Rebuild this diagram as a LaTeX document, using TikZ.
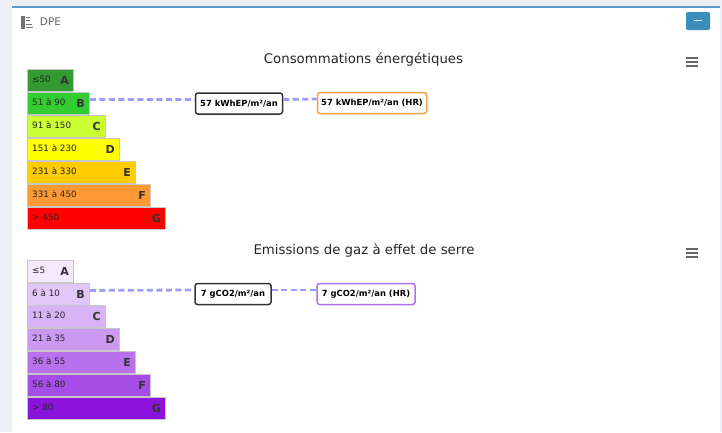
\documentclass[tikz,border=0pt]{standalone}
\usepackage{fontspec}
\setmainfont{DejaVu Sans}
\definecolor{pagebg}{HTML}{ECF0F5}
\definecolor{topline}{HTML}{5B9BCB}
\definecolor{btnblue}{HTML}{3C8DBC}
\definecolor{dashblue}{HTML}{9C9CFA}
\definecolor{ea}{HTML}{339933}\definecolor{eb}{HTML}{33CC33}\definecolor{ec}{HTML}{CCFF33}
\definecolor{ed}{HTML}{FFFF00}\definecolor{ee}{HTML}{FFCC00}\definecolor{ef}{HTML}{FF9933}\definecolor{eg}{HTML}{FF0000}
\definecolor{ga}{HTML}{F5EAFD}\definecolor{gb}{HTML}{E2C6F8}\definecolor{gc}{HTML}{D9B3F7}
\definecolor{gd}{HTML}{CC99F2}\definecolor{ge}{HTML}{B870EC}\definecolor{gf}{HTML}{A64DE8}\definecolor{gg}{HTML}{8A14DC}
\definecolor{calor}{HTML}{F5A040}\definecolor{calvi}{HTML}{B070F0}
\tikzset{
  x=1pt,y=-1pt,
  bar/.style={draw=black!22,line width=.8pt,anchor=north west,inner sep=0pt,minimum height=22pt},
  rng/.style={font=\fontsize{8.8}{9}\selectfont,text=black!85,anchor=west,inner sep=0pt},
  letter/.style={font=\fontsize{11}{12}\selectfont\bfseries,text=black!80,anchor=east,inner sep=0pt},
  callout/.style={draw,rounded corners=2.5pt,line width=1.5pt,fill=white,inner sep=0pt,minimum height=21pt,font=\fontsize{8.4}{9}\selectfont\bfseries,text=black},
  link/.style={draw=dashblue,line width=2.8pt,dash pattern=on 6pt off 3.5pt},
  charttitle/.style={font=\fontsize{13.3}{15}\selectfont,text=black!85,inner sep=0pt},
  burger/.style={draw=black!60,line width=1.3pt}
}
\newcommand{\ebar}[6]{% name, top, right, color, range, letter
  \node[bar,fill=#4,minimum width=#3pt-27pt] (#1) at (27,#2) {};
  \node[rng] (#1r) at (32,#2+10.5) {#5};
  \node[letter] (#1l) at (#3-4,#2+11) {#6};
}
\begin{document}
\begin{tikzpicture}
\useasboundingbox (0,0) rectangle (722,432);
\fill[pagebg] (0,0) rectangle (722,432);
\fill[white] (12,7) rectangle (720,432);
\draw[topline,line width=1.6pt] (12,7) -- (720,7);
% header
\foreach \yy/\xe in {17/30,20.5/30,24/32,27.5/33}{\draw[black!55,line width=1pt] (26,\yy) -- (\xe,\yy);}
\fill[black!55] (21,16) rectangle (24.5,29);
\node[font=\fontsize{10.5}{12}\selectfont,text=black!60,inner sep=0pt] (hdr) at (50.5,22) {DPE};
\node[fill=btnblue,rounded corners=1.5pt,minimum width=24pt,minimum height=18pt,inner sep=0pt] (btn) at (698,21) {};
\draw[white,line width=1.8pt] (694,20.5) -- (702,20.5);
% first chart
\node[charttitle] (t1) at (363.5,60) {Consommations énergétiques};
\foreach \yy in {58,62,66}{\draw[burger] (686,\yy) -- (698,\yy);}
\ebar{a1}{69}{73}{ea}{≤50}{A}
\ebar{b1}{92}{89}{eb}{51 à 90}{B}
\ebar{c1}{115}{105}{ec}{91 à 150}{C}
\ebar{d1}{138}{119}{ed}{151 à 230}{D}
\ebar{e1}{161}{135}{ee}{231 à 330}{E}
\ebar{f1}{184}{150}{ef}{331 à 450}{F}
\ebar{g1}{207}{165}{eg}{> 450}{G}
\node[callout,draw=black!80,minimum width=87pt] (m1) at (239,103.5) {57 kWhEP/m²/an};
\node[callout,draw=calor,minimum width=109pt] (h1) at (372,103) {57 kWhEP/m²/an (HR)};
\draw[link] ([yshift=4pt]b1.east) -- ([yshift=4pt]m1.west);
\draw[link] ([yshift=4pt]m1.east) -- ([yshift=4pt]h1.west);
% second chart
\node[charttitle] (t2) at (364,251) {Emissions de gaz à effet de serre};
\foreach \yy in {249,253,257}{\draw[burger] (686,\yy) -- (698,\yy);}
\ebar{a2}{260}{73}{ga}{≤5}{A}
\ebar{b2}{283}{89}{gb}{6 à 10}{B}
\ebar{c2}{305}{105}{gc}{11 à 20}{C}
\ebar{d2}{328}{119}{gd}{21 à 35}{D}
\ebar{e2}{351}{135}{ge}{36 à 55}{E}
\ebar{f2}{374}{150}{gf}{56 à 80}{F}
\ebar{g2}{397}{165}{gg}{> 80}{G}
\node[callout,draw=black!80,minimum width=76pt] (m2) at (233,294) {7 gCO2/m²/an};
\node[callout,draw=calvi,minimum width=98pt] (h2) at (366,294) {7 gCO2/m²/an (HR)};
\draw[link] ([yshift=4pt]b2.east) -- ([yshift=4pt]m2.west);
\draw[link] ([yshift=4pt]m2.east) -- ([yshift=4pt]h2.west);
\end{tikzpicture}
\end{document}
